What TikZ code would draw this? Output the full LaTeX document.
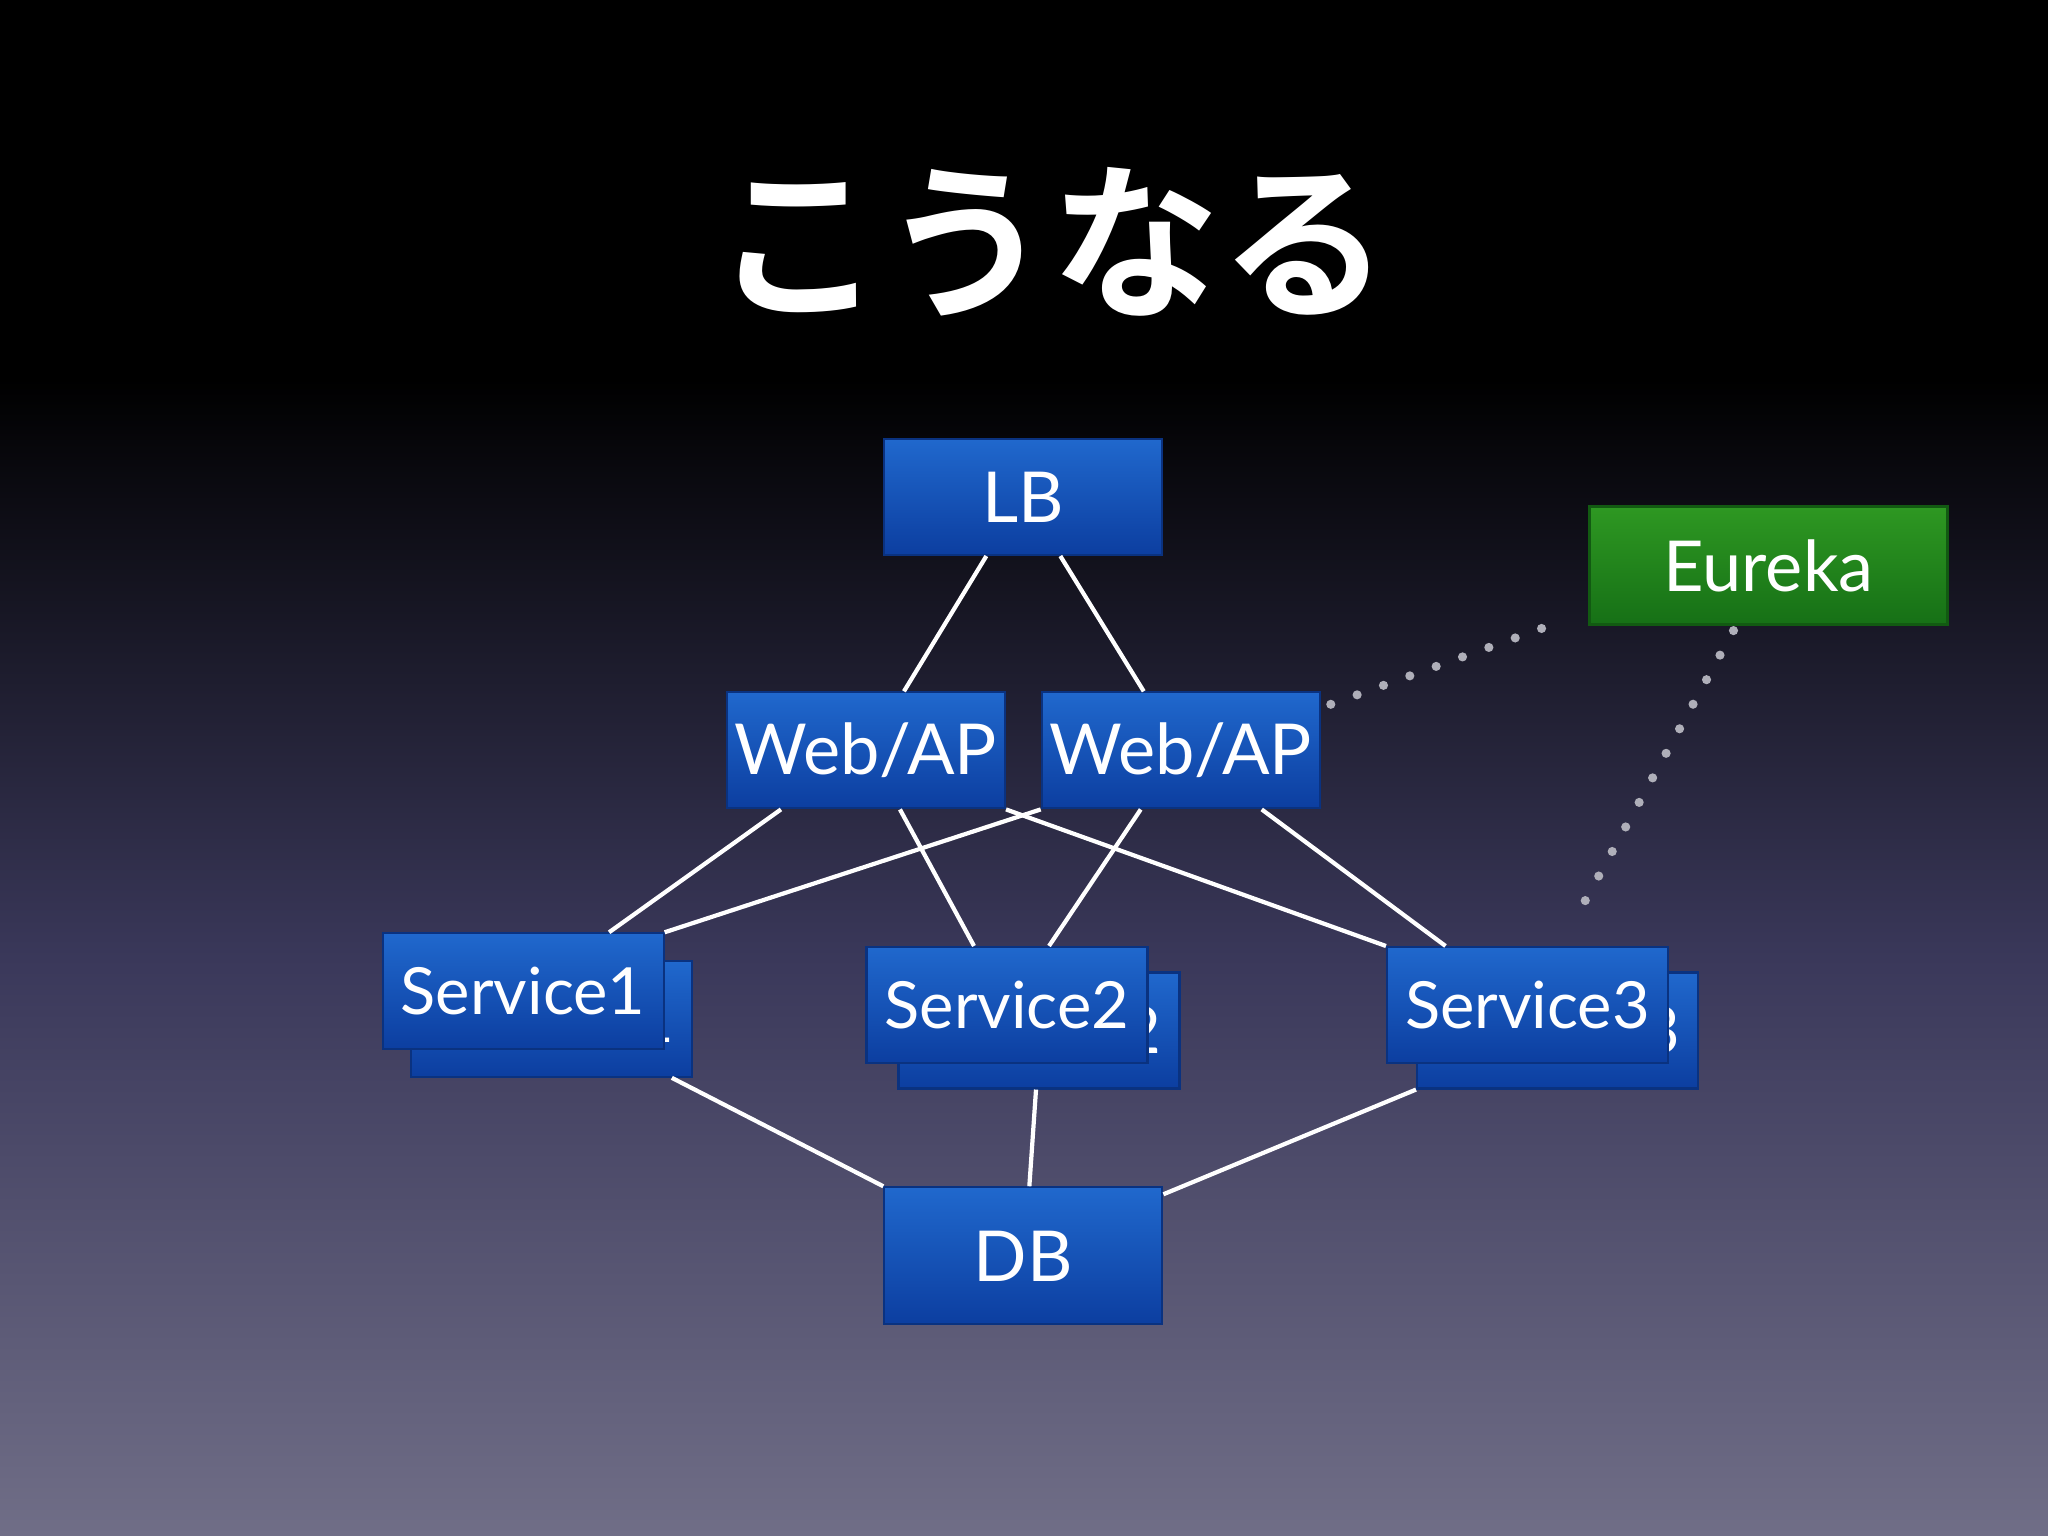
\documentclass[tikz,border=0pt]{standalone}
\usepackage{fontspec}
\setmainfont{Lato}
\newfontfamily\cjk{Noto Sans CJK JP Bold}
\usetikzlibrary{positioning}
\definecolor{bgtop}{RGB}{0,0,0}
\definecolor{bgmid}{RGB}{58,56,90}
\definecolor{bgbot}{RGB}{112,110,135}
\definecolor{boxtop}{RGB}{32,104,205}
\definecolor{boxbot}{RGB}{12,62,160}
\definecolor{greentop}{RGB}{46,152,34}
\definecolor{greenbot}{RGB}{22,112,22}
\definecolor{dotgray}{RGB}{175,175,185}
\tikzset{
  box/.style={draw=boxbot!80!black, line width=0.6pt, top color=boxtop, bottom color=boxbot,
    text=white, minimum width=2.78cm, minimum height=1.16cm, inner sep=0pt,
    font=\fontsize{20}{24}\selectfont},
  svc/.style={box, minimum width=2.81cm, minimum height=1.16cm, font=\fontsize{18.5}{22}\selectfont},
  eureka/.style={box, draw=greenbot!80!black, top color=greentop, bottom color=greenbot,
    minimum width=3.58cm, minimum height=1.18cm},
  link/.style={white, line width=1.2pt},
  dotted link/.style={dotgray, line width=2.6pt, line cap=round, dash pattern=on 0pt off 0.28cm}
}
\begin{document}
\begin{tikzpicture}[x=0.01306cm, y=-0.01306cm]
% Background
\fill[bgtop] (0,0) rectangle (1568,290);
\shade[top color=bgtop, bottom color=bgbot, middle color=bgmid] (0,290) rectangle (1568,1176);
\useasboundingbox (0,0) rectangle (1568,1176);

% Title
\node[text=white, font=\cjk\fontsize{48}{54}\selectfont] (title) at (805,185) {こうなる};

% Back copies of the services
\node[svc] (s1b) at (422.5,780) {Service1};
\node[svc] (s2b) at (795.5,789) {Service2};
\node[svc] (s3b) at (1192.5,789) {Service3};

% Nodes
\node[box] (lb) at (783.5,380.5) {LB};
\node[eureka] (eu) at (1354,433) {Eureka};
\node[box] (w1) at (663,574.5) {Web/AP};
\node[box] (w2) at (904,574.5) {Web/AP};
\node[svc] (s1) at (400.5,759) {Service1};
\node[svc] (s2) at (771,769.5) {Service2};
\node[svc] (s3) at (1169.5,769.5) {Service3};
\node[box, minimum height=1.37cm] (db) at (783.5,961.5) {DB};

% Connections
\draw[link] ([xshift=-0.37cm]lb.south) -- ([xshift=0.38cm]w1.north);
\draw[link] ([xshift=0.37cm]lb.south) -- ([xshift=-0.37cm]w2.north);
\draw[link] ([xshift=-0.85cm]w1.south) -- ([xshift=0.86cm]s1.north);
\draw[link] ([xshift=0.34cm]w1.south) -- ([xshift=-0.33cm]s2.north);
\draw[link] (w1.south east) -- (s3.north west);
\draw[link] (w2.south west) -- (s1.north east);
\draw[link] ([xshift=-0.4cm]w2.south) -- ([xshift=0.42cm]s2.north);
\draw[link] ([xshift=0.81cm]w2.south) -- ([xshift=-0.82cm]s3.north);
\draw[link] ([xshift=1.2cm]s1b.south) -- (db.north west);
\draw[link] ([xshift=-0.03cm]s2b.south) -- ([xshift=0.06cm]db.north);
\draw[link] (s3b.south west) -- ([yshift=-0.08cm]db.north east);

% Registry
\draw[dotted link] ([xshift=0.1cm,yshift=-0.13cm]w2.north east) -- ([xshift=-0.25cm,yshift=0.05cm]eu.south west);
\draw[dotted link] ([xshift=-0.35cm,yshift=-0.05cm]eu.south) -- ([xshift=0.46cm,yshift=0.24cm]s3.north);
\end{tikzpicture}
\end{document}
